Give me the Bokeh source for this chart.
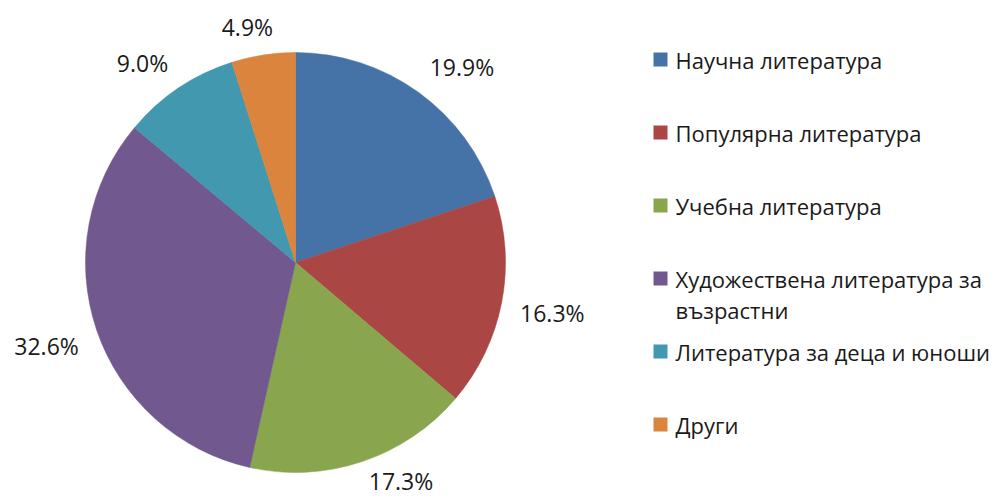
import math
from bokeh.plotting import figure
from bokeh.models import Range1d, ColumnDataSource
from bokeh.core.properties import value
from bokeh.embed import file_html
from bokeh.resources import INLINE

categories = ["Научна литература", "Популярна литература", "Учебна литература",
              "Художествена литература за\nвъзрастни", "Литература за деца и юноши", "Други"]
values = [19.9, 16.3, 17.3, 32.6, 9.0, 4.9]
colors = ["#4572A7", "#AA4643", "#89A54E", "#71588F", "#4198AF", "#DB843D"]

W, H = 1005, 499
CX, CY, R = 295, H - 262, 210
FONT = "Open Sans"
FS_LEG = 22
FS_LAB = 23


def clamp(t):
    return max(-1.0, min(1.0, t))


total = sum(values)
starts, ends, lx, ly, labels = [], [], [], [], []
cum = 0.0
for v in values:
    a0 = math.pi / 2 - 2 * math.pi * cum / total
    cum += v
    a1 = math.pi / 2 - 2 * math.pi * cum / total
    starts.append(a0)
    ends.append(a1)
    mid = (a0 + a1) / 2
    c, s = math.cos(mid), math.sin(mid)
    lab = f"{v:.1f}%"
    w, h = 14 * len(lab) - 4, 21
    rl = R + 18
    lx.append(CX + rl * c + clamp(c * 3.3) * w / 2)
    ly.append(max(19, CY + rl * s + clamp(s * 3.3) * h / 2))
    labels.append(lab)

p = figure(width=W, height=H, x_range=Range1d(0, W), y_range=Range1d(0, H),
           output_backend="svg", toolbar_location=None, min_border=0)
p.axis.visible = False
p.grid.visible = False
p.outline_line_color = None
p.background_fill_color = "white"

src = ColumnDataSource(dict(start=starts, end=ends, color=colors))
p.wedge(x=CX, y=CY, radius=R, start_angle="start", end_angle="end", direction="clock",
        fill_color="color", line_color="color", line_width=0.5, source=src)

p.text(x=lx, y=ly, text=labels, text_font=value(FONT), text_font_size=f"{FS_LAB}px",
       text_align="center", text_baseline="middle", text_color="#1a1a1a")

# legend
LX, LY0, STEP = 660, 59, 73
ys = [H - (LY0 + STEP * i) for i in range(len(categories))]
p.rect(x=[LX] * len(categories), y=ys, width=14, height=14, fill_color=colors, line_color=None)
p.text(x=[LX + 15] * len(categories), y=[y + 15 for y in ys], text=categories,
       text_font=value(FONT), text_font_size=f"{FS_LEG}px", text_align="left", text_baseline="top",
       text_line_height=1.05, text_color="#1a1a1a")

open("out.html", "w").write(file_html(p, INLINE))
